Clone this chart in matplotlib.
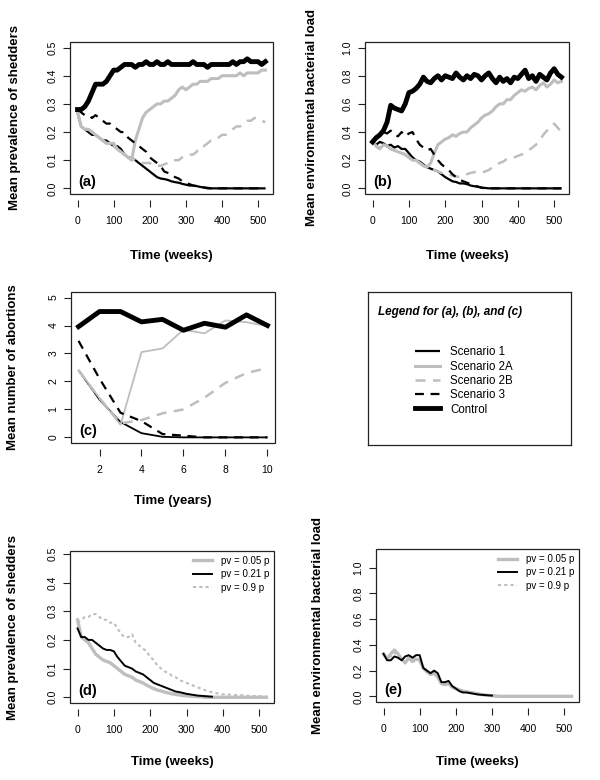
import numpy as np
import matplotlib
matplotlib.use('Agg')
import matplotlib.pyplot as plt
from matplotlib.patches import Rectangle
from matplotlib.ticker import FormatStrFormatter

plt.rcParams['font.family'] = ['Liberation Sans', 'DejaVu Sans']

GRAY = '#BEBEBE'
DASH = (0, (4, 3))
DOT = (0, (1.5, 1.5))

# --- data: weekly series sampled every 10 weeks (0..520) ---
weeks = np.arange(0, 521, 10)

# (a) mean prevalence of shedders
prev_s1 = [0.27, 0.22, 0.21, 0.20, 0.19, 0.19, 0.18, 0.17, 0.17, 0.16,
           0.15, 0.15, 0.14, 0.12, 0.11, 0.11, 0.10, 0.09, 0.08, 0.07,
           0.06, 0.05, 0.04, 0.035, 0.033, 0.03, 0.025, 0.022, 0.02, 0.016,
           0.013, 0.01, 0.01, 0.008, 0.005, 0.003, 0.002, 0.0, 0.0, 0.0,
           0.0, 0.0, 0.0, 0.0, 0.0, 0.0, 0.0, 0.0, 0.0, 0.0,
           0.0, 0.0, 0.0]
prev_s2a = [0.27, 0.22, 0.21, 0.21, 0.20, 0.19, 0.18, 0.17, 0.16, 0.16,
            0.16, 0.14, 0.13, 0.12, 0.11, 0.10, 0.17, 0.21, 0.25, 0.27,
            0.28, 0.29, 0.30, 0.30, 0.31, 0.31, 0.32, 0.33, 0.35, 0.36,
            0.35, 0.36, 0.37, 0.37, 0.38, 0.38, 0.38, 0.39, 0.39, 0.39,
            0.40, 0.40, 0.40, 0.40, 0.40, 0.41, 0.40, 0.41, 0.41, 0.41,
            0.41, 0.42, 0.42]
prev_s2b = [0.27, 0.22, 0.21, 0.21, 0.20, 0.19, 0.18, 0.17, 0.16, 0.16,
            0.15, 0.14, 0.13, 0.12, 0.11, 0.11, 0.10, 0.10, 0.09, 0.09,
            0.09, 0.08, 0.08, 0.08, 0.085, 0.09, 0.09, 0.10, 0.10, 0.11,
            0.11, 0.12, 0.12, 0.13, 0.15, 0.15, 0.16, 0.17, 0.17, 0.18,
            0.19, 0.19, 0.20, 0.21, 0.22, 0.22, 0.23, 0.24, 0.24, 0.25,
            0.25, 0.24, 0.235]
prev_s3 = [0.28, 0.27, 0.26, 0.26, 0.25, 0.26, 0.25, 0.24, 0.23, 0.23,
           0.22, 0.21, 0.20, 0.20, 0.18, 0.17, 0.16, 0.15, 0.14, 0.13,
           0.11, 0.10, 0.09, 0.08, 0.06, 0.055, 0.05, 0.04, 0.035, 0.025,
           0.02, 0.015, 0.01, 0.008, 0.005, 0.003, 0.0, 0.0, 0.0, 0.0,
           0.0, 0.0, 0.0, 0.0, 0.0, 0.0, 0.0, 0.0, 0.0, 0.0,
           0.0, 0.0, 0.0]
prev_ctrl = [0.28, 0.28, 0.29, 0.31, 0.34, 0.37, 0.37, 0.37, 0.38, 0.40,
             0.42, 0.42, 0.43, 0.44, 0.44, 0.44, 0.43, 0.44, 0.44, 0.45,
             0.44, 0.44, 0.45, 0.44, 0.44, 0.45, 0.44, 0.44, 0.44, 0.44,
             0.44, 0.44, 0.45, 0.44, 0.44, 0.44, 0.43, 0.44, 0.44, 0.44,
             0.44, 0.44, 0.44, 0.45, 0.44, 0.45, 0.45, 0.46, 0.45, 0.45,
             0.45, 0.44, 0.45]

# (b) mean environmental bacterial load
env_s1 = [0.33, 0.31, 0.33, 0.32, 0.30, 0.31, 0.29, 0.30, 0.28, 0.28,
          0.25, 0.22, 0.20, 0.19, 0.17, 0.15, 0.14, 0.13, 0.12, 0.10,
          0.08, 0.065, 0.05, 0.045, 0.035, 0.035, 0.03, 0.02, 0.015, 0.012,
          0.005, 0.003, 0.0, 0.0, 0.0, 0.0, 0.0, 0.0, 0.0, 0.0,
          0.0, 0.0, 0.0, 0.0, 0.0, 0.0, 0.0, 0.0, 0.0, 0.0,
          0.0, 0.0, 0.0]
env_s2a = [0.33, 0.30, 0.28, 0.31, 0.30, 0.28, 0.27, 0.26, 0.25, 0.24,
           0.22, 0.20, 0.20, 0.18, 0.16, 0.15, 0.18, 0.25, 0.31, 0.33,
           0.35, 0.36, 0.38, 0.37, 0.39, 0.40, 0.40, 0.43, 0.45, 0.47,
           0.50, 0.52, 0.53, 0.55, 0.58, 0.60, 0.60, 0.63, 0.63, 0.66,
           0.68, 0.70, 0.69, 0.71, 0.72, 0.70, 0.73, 0.75, 0.72, 0.74,
           0.77, 0.75, 0.76]
env_s2b = [0.33, 0.30, 0.29, 0.31, 0.30, 0.28, 0.27, 0.26, 0.25, 0.24,
           0.22, 0.20, 0.19, 0.18, 0.16, 0.15, 0.14, 0.13, 0.12, 0.11,
           0.10, 0.10, 0.09, 0.085, 0.08, 0.09, 0.10, 0.11, 0.115, 0.12,
           0.11, 0.12, 0.13, 0.15, 0.17, 0.18, 0.19, 0.21, 0.22, 0.22,
           0.23, 0.24, 0.25, 0.27, 0.29, 0.31, 0.34, 0.38, 0.41, 0.43,
           0.46, 0.43, 0.40]
env_s3 = [0.33, 0.35, 0.37, 0.40, 0.39, 0.41, 0.38, 0.37, 0.40, 0.37,
          0.39, 0.40, 0.35, 0.31, 0.29, 0.27, 0.28, 0.24, 0.20, 0.17,
          0.15, 0.13, 0.10, 0.08, 0.06, 0.05, 0.04, 0.03, 0.02, 0.012,
          0.005, 0.0, 0.0, 0.0, 0.0, 0.0, 0.0, 0.0, 0.0, 0.0,
          0.0, 0.0, 0.0, 0.0, 0.0, 0.0, 0.0, 0.0, 0.0, 0.0,
          0.0, 0.0, 0.0]
env_ctrl = [0.33, 0.36, 0.38, 0.41, 0.47, 0.59, 0.57, 0.56, 0.55, 0.60,
            0.68, 0.69, 0.71, 0.74, 0.79, 0.76, 0.75, 0.78, 0.80, 0.77,
            0.80, 0.79, 0.78, 0.82, 0.79, 0.77, 0.80, 0.78, 0.81, 0.80,
            0.77, 0.80, 0.82, 0.78, 0.75, 0.79, 0.76, 0.78, 0.75, 0.79,
            0.78, 0.81, 0.84, 0.78, 0.80, 0.76, 0.81, 0.79, 0.77, 0.82,
            0.85, 0.81, 0.79]

# (c) mean number of abortions per year
years = [1, 2, 3, 4, 5, 6, 7, 8, 9, 10]
abort_s1 = [2.4, 1.35, 0.55, 0.15, 0.02, 0.0, 0.0, 0.0, 0.0, 0.0]
abort_s2a = [2.4, 1.4, 0.45, 3.05, 3.18, 3.85, 3.72, 4.18, 4.12, 3.98]
abort_s2b = [2.4, 1.4, 0.5, 0.62, 0.86, 1.0, 1.42, 1.95, 2.3, 2.48]
abort_s3 = [3.45, 2.1, 0.88, 0.58, 0.12, 0.06, 0.0, 0.0, 0.0, 0.0]
abort_ctrl = [3.96, 4.5, 4.5, 4.13, 4.22, 3.83, 4.08, 3.94, 4.38, 4.0]

scenario_labels = ['Scenario 1', 'Scenario 2A', 'Scenario 2B', 'Scenario 3', 'Control']

# (d) prevalence for different pv values
d_pv005 = [0.27, 0.21, 0.20, 0.19, 0.17, 0.15, 0.14, 0.13, 0.125, 0.12,
           0.11, 0.10, 0.09, 0.08, 0.075, 0.07, 0.06, 0.055, 0.05, 0.042,
           0.036, 0.03, 0.025, 0.022, 0.018, 0.015, 0.012, 0.01, 0.008, 0.006,
           0.005, 0.004, 0.003, 0.002, 0.002, 0.0, 0.0, 0.0, 0.0, 0.0,
           0.0, 0.0, 0.0, 0.0, 0.0, 0.0, 0.0, 0.0, 0.0, 0.0,
           0.0, 0.0, 0.0]
d_pv021 = [0.24, 0.21, 0.21, 0.20, 0.20, 0.19, 0.18, 0.17, 0.165, 0.165,
           0.16, 0.14, 0.125, 0.11, 0.105, 0.10, 0.09, 0.085, 0.08, 0.07,
           0.06, 0.05, 0.045, 0.04, 0.035, 0.03, 0.025, 0.02, 0.018, 0.015,
           0.012, 0.01, 0.008, 0.006, 0.005, 0.004, 0.003, 0.002]
d_pv09 = [0.26, 0.27, 0.28, 0.28, 0.29, 0.29, 0.28, 0.27, 0.27, 0.26,
          0.26, 0.24, 0.22, 0.21, 0.21, 0.22, 0.19, 0.18, 0.17, 0.16,
          0.14, 0.13, 0.11, 0.10, 0.09, 0.085, 0.075, 0.07, 0.06, 0.055,
          0.05, 0.045, 0.04, 0.035, 0.03, 0.025, 0.02, 0.018, 0.015, 0.012,
          0.01, 0.01, 0.009, 0.008, 0.007, 0.007, 0.006, 0.005, 0.005, 0.004,
          0.004, 0.003, 0.003]

# (e) environmental load for different pv values
e_pv005 = [0.33, 0.29, 0.33, 0.36, 0.33, 0.29, 0.26, 0.30, 0.27, 0.29,
           0.28, 0.22, 0.19, 0.17, 0.18, 0.15, 0.10, 0.09, 0.10, 0.07,
           0.06, 0.05, 0.04, 0.035, 0.03, 0.025, 0.02, 0.015, 0.01, 0.007,
           0.005, 0.003, 0.0, 0.0, 0.0, 0.0, 0.0, 0.0, 0.0, 0.0,
           0.0, 0.0, 0.0, 0.0, 0.0, 0.0, 0.0, 0.0, 0.0, 0.0,
           0.0, 0.0, 0.0]
e_pv021 = [0.33, 0.28, 0.28, 0.31, 0.30, 0.28, 0.31, 0.32, 0.30, 0.32,
           0.32, 0.22, 0.20, 0.18, 0.20, 0.18, 0.11, 0.11, 0.12, 0.08,
           0.06, 0.04, 0.03, 0.03, 0.025, 0.02, 0.015, 0.012, 0.01, 0.008,
           0.006]
e_pv09 = [0.32, 0.30, 0.31, 0.34, 0.32, 0.28, 0.27, 0.29, 0.28, 0.30,
          0.29, 0.23, 0.20, 0.18, 0.18, 0.16, 0.11, 0.10, 0.11, 0.08,
          0.065, 0.05, 0.04, 0.035, 0.03, 0.025, 0.02, 0.015, 0.012, 0.008,
          0.006, 0.004, 0.003, 0.002, 0.002, 0.001]

pv_labels = ['pv = 0.05 p', 'pv = 0.21 p', 'pv = 0.9 p']


def style_axes(ax, xlim, ylim, xticks, yticks, yfmt, xlabel, ylabel, tag,
               xlab_y=-0.37, ylab_x=-0.24):
    ax.set_xlim(xlim)
    ax.set_ylim(ylim)
    for s in ax.spines.values():
        s.set_visible(False)
    # R-like detached x axis ticks, box drawn separately
    ax.spines['bottom'].set_position(('outward', 4))
    ax.add_patch(Rectangle((0, 0), 1, 1, transform=ax.transAxes, fill=False,
                           lw=0.9, edgecolor='#222222', clip_on=False, zorder=6))
    ax.set_xticks(xticks)
    ax.set_yticks(yticks)
    ax.yaxis.set_major_formatter(FormatStrFormatter(yfmt))
    ax.tick_params(axis='x', length=5, width=0.8, pad=7, labelsize=7.5, color='#222222')
    ax.tick_params(axis='y', length=5, width=0.8, pad=4, labelsize=7.5, color='#222222',
                   labelrotation=90)
    for lbl in ax.get_yticklabels():
        lbl.set_va('center')
    ax.set_xlabel(xlabel, fontsize=9.5, fontweight='bold')
    ax.set_ylabel(ylabel, fontsize=9.5, fontweight='bold')
    ax.xaxis.set_label_coords(0.5, xlab_y)
    ax.yaxis.set_label_coords(ylab_x, 0.5)
    ax.text(0.04, 0.08, tag, transform=ax.transAxes, fontsize=10.5,
            fontweight='bold', va='center', ha='left')


def plot_scenarios(ax, x, s1, s2a, s2b, s3, ctrl, thin=False):
    w = 1.3 if thin else 1.6
    lines = []
    lines += ax.plot(x, s1, color='black', lw=w, solid_capstyle='butt')
    lines += ax.plot(x, s2a, color=GRAY, lw=w if thin else 2.2)
    lines += ax.plot(x, s2b, color=GRAY, lw=1.8, linestyle=DASH)
    lines += ax.plot(x, s3, color='black', lw=1.6, linestyle=DASH)
    lines += ax.plot(x, ctrl, color='black', lw=3.5)
    return lines


def plot_pv(ax, x, p005, p021, p09):
    l09, = ax.plot(x[:len(p09)], p09, color=GRAY, lw=1.5, linestyle=DOT)
    l005, = ax.plot(x[:len(p005)], p005, color=GRAY, lw=2.4)
    l021, = ax.plot(x[:len(p021)], p021, color='black', lw=1.4)
    ax.legend([l005, l021, l09], pv_labels, loc='upper right', frameon=False,
              fontsize=7, handlelength=2.0, handletextpad=0.9,
              labelspacing=0.35, borderaxespad=0.3, borderpad=0.2)


fig = plt.figure(figsize=(6, 7.8), dpi=100)

ax_a = fig.add_axes([0.1167, 0.7513, 0.338, 0.1949])
ax_b = fig.add_axes([0.6083, 0.7513, 0.340, 0.1949])
ax_c = fig.add_axes([0.1183, 0.4321, 0.340, 0.1936])
ax_l = fig.add_axes([0.6133, 0.4295, 0.3383, 0.1962])
ax_d = fig.add_axes([0.1167, 0.0987, 0.340, 0.1949])
ax_e = fig.add_axes([0.6267, 0.1000, 0.3383, 0.1960])

wk_ticks = [0, 100, 200, 300, 400, 500]
wk_lim = (-20.8, 540.8)

lines_a = plot_scenarios(ax_a, weeks, prev_s1, prev_s2a, prev_s2b, prev_s3, prev_ctrl)
style_axes(ax_a, wk_lim, (-0.02, 0.52), wk_ticks, np.arange(0, 0.51, 0.1), '%.1f',
           'Time (weeks)', 'Mean prevalence of shedders', '(a)')

plot_scenarios(ax_b, weeks, env_s1, env_s2a, env_s2b, env_s3, env_ctrl)
style_axes(ax_b, wk_lim, (-0.04, 1.04), wk_ticks, np.arange(0, 1.01, 0.2), '%.1f',
           'Time (weeks)', 'Mean environmental bacterial load', '(b)', ylab_x=-0.23)

plot_scenarios(ax_c, years, abort_s1, abort_s2a, abort_s2b, abort_s3, abort_ctrl, thin=True)
style_axes(ax_c, (0.64, 10.36), (-0.2, 5.2), [2, 4, 6, 8, 10], [0, 1, 2, 3, 4, 5], '%d',
           'Time (years)', 'Mean number of abortions', '(c)', xlab_y=-0.345, ylab_x=-0.255)

plot_pv(ax_d, weeks, d_pv005, d_pv021, d_pv09)
style_axes(ax_d, wk_lim, (-0.02, 0.51), wk_ticks, np.arange(0, 0.51, 0.1), '%.1f',
           'Time (weeks)', 'Mean prevalence of shedders', '(d)', xlab_y=-0.35, ylab_x=-0.25)

plot_pv(ax_e, weeks, e_pv005, e_pv021, e_pv09)
style_axes(ax_e, wk_lim, (-0.044, 1.144), wk_ticks, np.arange(0, 1.01, 0.2), '%.1f',
           'Time (weeks)', 'Mean environmental bacterial load', '(e)', xlab_y=-0.355,
           ylab_x=-0.256)

# legend panel for (a), (b), (c)
ax_l.set_xticks([])
ax_l.set_yticks([])
for s in ax_l.spines.values():
    s.set_linewidth(0.9)
    s.set_edgecolor('#222222')
ax_l.text(0.05, 0.87, 'Legend for (a), (b), and (c)', transform=ax_l.transAxes,
          fontsize=8.5, fontweight='bold', fontstyle='italic', va='center', ha='left')
ax_l.legend(lines_a, scenario_labels, loc='upper left', bbox_to_anchor=(0.23, 0.645),
            frameon=False, fontsize=8.3, handlelength=2.2, handletextpad=0.9,
            labelspacing=0.2, borderaxespad=0, borderpad=0)

fig.savefig('out.png', dpi=100)
